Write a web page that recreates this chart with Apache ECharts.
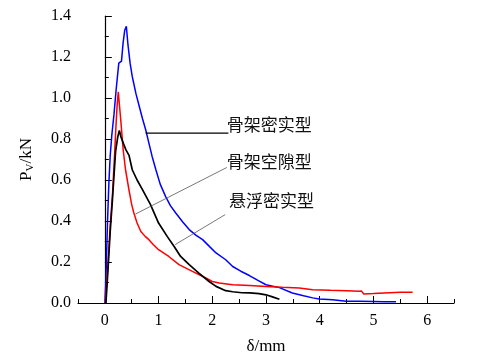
<!DOCTYPE html>
<html>
<head>
<meta charset="utf-8">
<script src="https://cdn.jsdelivr.net/npm/echarts@6/dist/echarts.min.js"></script>
<style>
    html, body { margin: 0; padding: 0; background: #fff; }
    #chart { width: 481px; height: 361px; }
</style>
</head>
<body>
<div id="chart"></div>
<script>
// 骨架密实型 (blue)
const denseSkeletonX = [0, 0.02, 0.05, 0.075, 0.1, 0.13, 0.17, 0.21, 0.24, 0.26, 0.31, 0.34, 0.37, 0.40, 0.43, 0.47, 0.51, 0.58, 0.64, 0.70, 0.76, 0.82, 0.88, 0.95, 1.03, 1.13, 1.22, 1.32, 1.45, 1.57, 1.7, 1.82, 1.95, 2.07, 2.25, 2.38, 2.53, 2.69, 2.85, 3.0, 3.25, 3.49, 3.7, 3.87, 3.99, 4.24, 4.49, 4.74, 5.0, 5.2, 5.42];
const denseSkeletonY = [0, 0.12, 0.4, 0.586, 0.72, 0.82, 0.92, 1.04, 1.12, 1.17, 1.18, 1.27, 1.33, 1.35, 1.26, 1.17, 1.105, 1.02, 0.96, 0.90, 0.845, 0.78, 0.715, 0.65, 0.58, 0.52, 0.475, 0.439, 0.395, 0.358, 0.33, 0.309, 0.275, 0.244, 0.211, 0.178, 0.155, 0.134, 0.11, 0.089, 0.075, 0.049, 0.035, 0.025, 0.02, 0.016, 0.009, 0.008, 0.007, 0.006, 0.006];

// 骨架空隙型 (black)
const openSkeletonX = [0.02, 0.06, 0.1, 0.14, 0.2, 0.24, 0.27, 0.3, 0.35, 0.39, 0.45, 0.51, 0.6, 0.7, 0.85, 1.0, 1.16, 1.29, 1.41, 1.57, 1.75, 1.94, 2.07, 2.25, 2.38, 2.55, 2.7, 2.87, 3.0, 3.12, 3.25];
const openSkeletonY = [0, 0.17, 0.35, 0.5, 0.74, 0.81, 0.842, 0.81, 0.775, 0.748, 0.72, 0.65, 0.6, 0.553, 0.48, 0.39, 0.325, 0.276, 0.227, 0.187, 0.146, 0.105, 0.081, 0.06, 0.055, 0.05, 0.049, 0.046, 0.04, 0.03, 0.018];

// 悬浮密实型 (red)
const suspendedX = [0.01, 0.06, 0.1, 0.14, 0.18, 0.21, 0.23, 0.25, 0.27, 0.3, 0.34, 0.385, 0.45, 0.5, 0.54, 0.6, 0.67, 0.75, 0.82, 0.9, 1.0, 1.19, 1.38, 1.63, 1.88, 2.0, 2.13, 2.38, 2.7, 3.0, 3.3, 3.62, 3.87, 4.2, 4.5, 4.74, 4.78, 4.82, 5.0, 5.3, 5.5, 5.73];
const suspendedY = [0, 0.2, 0.38, 0.52, 0.72, 0.88, 0.97, 1.03, 0.97, 0.88, 0.75, 0.65, 0.55, 0.48, 0.439, 0.39, 0.349, 0.325, 0.309, 0.285, 0.26, 0.227, 0.187, 0.154, 0.122, 0.105, 0.098, 0.089, 0.085, 0.081, 0.077, 0.073, 0.065, 0.062, 0.06, 0.057, 0.058, 0.044, 0.046, 0.05, 0.052, 0.052];

const xMajorTicks = [0, 1, 2, 3, 4, 5, 6];

// leader lines + labels (data coords)
const notes = [
    { text: "骨架密实型", from: [0.76, 0.829], to: [2.30, 0.829], color: "#000", width: 1.2, label: [2.27, 0.869] },
    { text: "骨架空隙型", from: [0.57, 0.434], to: [2.27, 0.661], color: "#555", width: 0.8, label: [2.27, 0.69] },
    { text: "悬浮密实型", from: [1.31, 0.285], to: [2.24, 0.431], color: "#555", width: 0.8, label: [2.31, 0.50] },
];

const pairUp = (xs, ys) => xs.map((x, i) => [x, ys[i]]);
const serif = "Liberation Serif";

let chart = echarts.init(document.getElementById("chart"));

const chartOption = {
    animation: false,
    grid: { left: 78, right: 27, top: 16, bottom: 58 },
    xAxis: [
        {
            type: "value",
            min: -0.5,
            max: 6.5,
            interval: 0.5,
            name: "δ/mm",
            nameLocation: "middle",
            nameGap: 35,
            nameTextStyle: { fontFamily: serif, fontSize: 17, color: "#000" },
            axisLine: { lineStyle: { color: "#000", width: 1.2 } },
            axisTick: { inside: true, length: 4, lineStyle: { color: "#000" } },
            axisLabel: {
                fontFamily: serif,
                fontSize: 16,
                color: "#000",
                margin: 10,
                formatter: (v) => (Math.abs(v % 1) < 1e-9 && v >= 0 ? String(v) : ""),
            },
            splitLine: { show: false },
        },
        {
            type: "value",
            min: -0.5,
            max: 6.5,
            position: "bottom",
            axisLine: { show: false },
            axisTick: { inside: true, length: 7, customValues: xMajorTicks, lineStyle: { color: "#000" } },
            axisLabel: { show: false },
            splitLine: { show: false },
        },
    ],
    yAxis: {
        type: "value",
        min: 0,
        max: 1.4,
        interval: 0.2,
        name: "P{sub|V}/kN",
        nameLocation: "middle",
        nameGap: 42,
        nameTextStyle: {
            fontFamily: serif,
            fontSize: 17,
            color: "#000",
            rich: { sub: { fontFamily: serif, fontSize: 11, color: "#000", verticalAlign: "bottom", padding: [8, 0, 0, 0] } },
        },
        axisLine: { show: true, lineStyle: { color: "#000", width: 1.2 } },
        axisTick: { inside: true, length: 7, lineStyle: { color: "#000" } },
        minorTick: { show: true, splitNumber: 2, length: 4, lineStyle: { color: "#000" } },
        axisLabel: {
            fontFamily: serif,
            fontSize: 16,
            color: "#000",
            margin: 7,
            formatter: (v) => v.toFixed(1),
        },
        splitLine: { show: false },
        minorSplitLine: { show: false },
    },
    series: [
        {
            name: "骨架密实型",
            type: "line",
            showSymbol: false,
            color: "#0000ff",
            lineStyle: { width: 1.5 },
            data: pairUp(denseSkeletonX, denseSkeletonY),
        },
        {
            name: "悬浮密实型",
            type: "line",
            showSymbol: false,
            color: "#ff0000",
            lineStyle: { width: 1.5 },
            data: pairUp(suspendedX, suspendedY),
        },
        {
            name: "骨架空隙型",
            type: "line",
            showSymbol: false,
            color: "#000000",
            lineStyle: { width: 1.7 },
            data: pairUp(openSkeletonX, openSkeletonY),
        },
    ],
};

chart.setOption(chartOption);

// leader lines and their labels, placed through the axes
const graphics = [];
notes.forEach((n) => {
    const p1 = chart.convertToPixel({ gridIndex: 0 }, n.from);
    const p2 = chart.convertToPixel({ gridIndex: 0 }, n.to);
    const pt = chart.convertToPixel({ gridIndex: 0 }, n.label);
    graphics.push({
        type: "line",
        shape: { x1: p1[0], y1: p1[1], x2: p2[0], y2: p2[1] },
        style: { stroke: n.color, lineWidth: n.width },
        z: 10,
    });
    graphics.push({
        type: "text",
        x: pt[0],
        y: pt[1],
        style: {
            text: n.text,
            font: '17px "Noto Sans CJK SC"',
            fill: "#111",
            verticalAlign: "middle",
        },
        z: 10,
    });
});
chart.setOption({ graphic: graphics });
</script>
</body>
</html>
